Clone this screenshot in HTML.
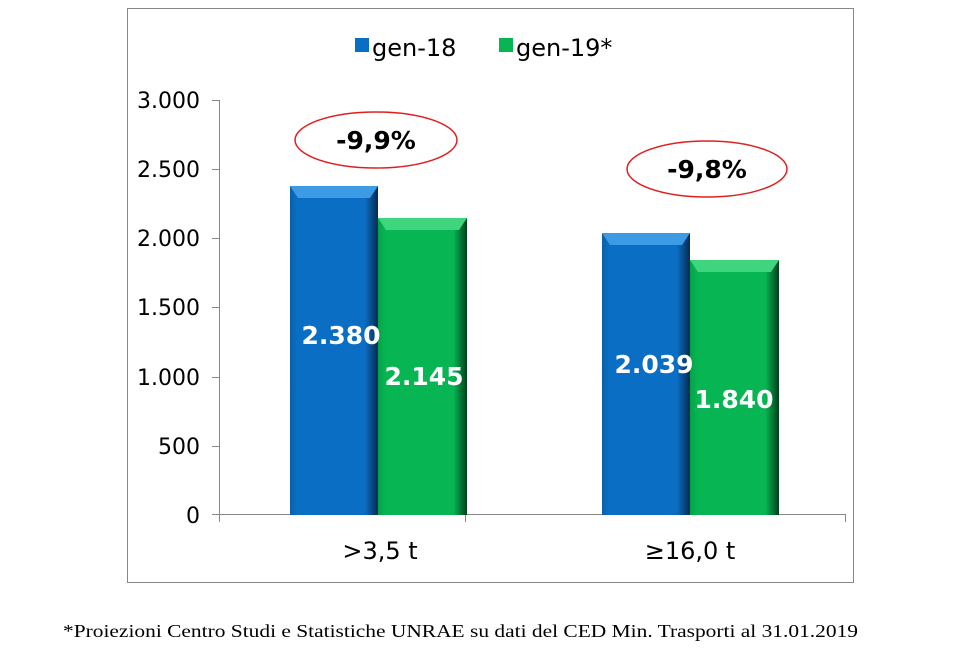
<!DOCTYPE html>
<html><head><style>body{margin:0;background:#fff}svg{display:block}</style></head><body>
<svg width="956" height="650" xmlns="http://www.w3.org/2000/svg" font-family="'DejaVu Sans', Verdana, sans-serif">
<defs>
<linearGradient id="bh" x1="0" x2="1"><stop offset="0" stop-color="#0b5fa8"/><stop offset="0.08" stop-color="#0a6fc4"/><stop offset="0.85" stop-color="#0a6fc4"/><stop offset="1" stop-color="#062a50"/></linearGradient>
<linearGradient id="gh" x1="0" x2="1"><stop offset="0" stop-color="#07a048"/><stop offset="0.08" stop-color="#07b552"/><stop offset="0.85" stop-color="#07b552"/><stop offset="1" stop-color="#033d1c"/></linearGradient>
</defs>
<rect x="127.5" y="8.5" width="726" height="574" fill="#fff" stroke="#888"/>
<g stroke="#888" stroke-width="1">
<line x1="219.5" y1="100" x2="219.5" y2="515"/>
<line x1="212" y1="514.5" x2="846" y2="514.5"/>
<line x1="212" y1="100.5" x2="219" y2="100.5"/><line x1="212" y1="169.5" x2="219" y2="169.5"/><line x1="212" y1="238.5" x2="219" y2="238.5"/><line x1="212" y1="307.5" x2="219" y2="307.5"/><line x1="212" y1="377.5" x2="219" y2="377.5"/><line x1="212" y1="446.5" x2="219" y2="446.5"/>
<line x1="219.5" y1="514" x2="219.5" y2="522"/><line x1="465.5" y1="514" x2="465.5" y2="522"/><line x1="845.5" y1="514" x2="845.5" y2="522"/>
</g>
<g font-size="22" text-anchor="end" fill="#000">
<text x="200" y="108">3.000</text><text x="200" y="177">2.500</text><text x="200" y="246">2.000</text><text x="200" y="315">1.500</text><text x="200" y="385">1.000</text><text x="200" y="454">500</text><text x="200" y="523">0</text>
</g>
<g>
<rect x="290" y="186" width="88" height="329" fill="url(#bh)"/><polygon points="290,186 378,186 370,198 298,198" fill="#3d9be6"/>
<rect x="378" y="218" width="89" height="297" fill="url(#gh)"/><polygon points="378,218 467,218 459,230 386,230" fill="#3fd47e"/>
<rect x="602" y="233" width="88" height="282" fill="url(#bh)"/><polygon points="602,233 690,233 682,245 610,245" fill="#3d9be6"/>
<rect x="690" y="260" width="89" height="255" fill="url(#gh)"/><polygon points="690,260 779,260 771,272 698,272" fill="#3fd47e"/>
</g>
<g font-size="25" font-weight="bold" fill="#fff" text-anchor="middle">
<text x="341" y="344">2.380</text><text x="424" y="385">2.145</text><text x="654" y="373">2.039</text><text x="734" y="408">1.840</text>
</g>
<g font-size="24" text-anchor="middle" fill="#000"><text x="380" y="559">&gt;3,5 t</text><text x="690" y="559">≥16,0 t</text></g>
<ellipse cx="376" cy="140" rx="81" ry="28" fill="none" stroke="#e02020" stroke-width="1.5"/>
<ellipse cx="707" cy="169" rx="80" ry="28" fill="none" stroke="#e02020" stroke-width="1.5"/>
<g font-size="25" font-weight="bold" text-anchor="middle" fill="#000"><text x="376" y="149">-9,9%</text><text x="707" y="178">-9,8%</text></g>
<rect x="355" y="38" width="14" height="14" fill="#0a6fc4"/><rect x="499" y="38" width="14" height="14" fill="#07b552"/>
<g font-size="24" fill="#000"><text x="372" y="56">gen-18</text><text x="516" y="56">gen-19*</text></g>
<text x="63" y="637" font-family="'Liberation Serif', serif" font-size="18" textLength="795" lengthAdjust="spacingAndGlyphs">*Proiezioni Centro Studi e Statistiche UNRAE su dati del CED Min. Trasporti al 31.01.2019</text>
</svg>
</body></html>
